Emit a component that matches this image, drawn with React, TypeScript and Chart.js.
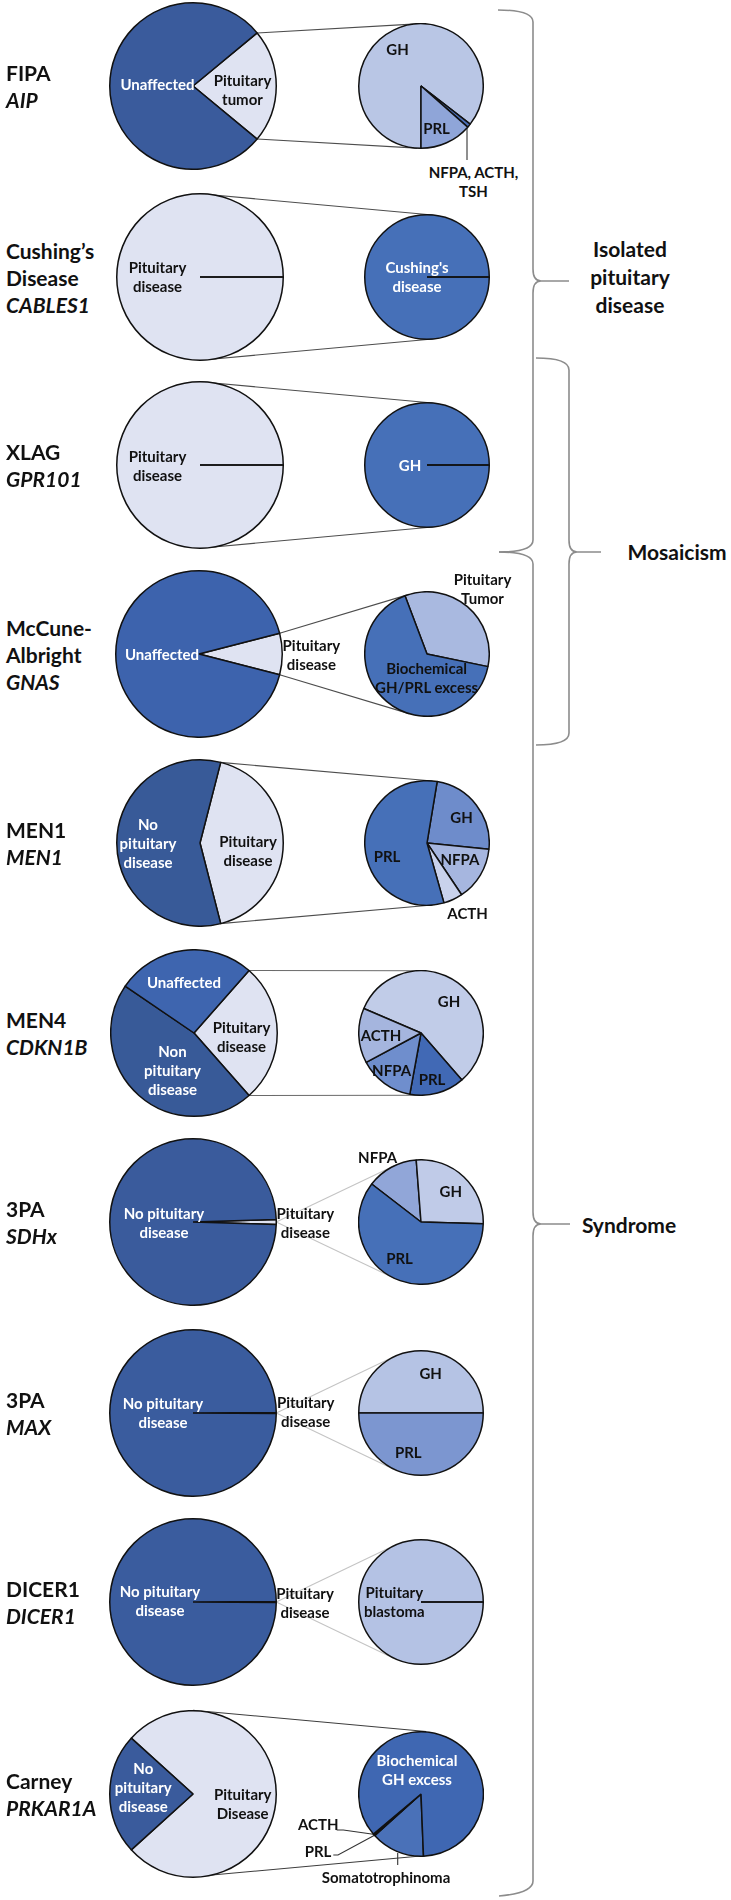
import React, { useEffect, useRef } from 'react';
import Chart from 'chart.js/auto';

// ---------------- DATA ----------------
const rowNames = [['FIPA'], ['Cushing’s', 'Disease'], ['XLAG'], ['McCune-', 'Albright'], ['MEN1'], ['MEN4'], ['3PA'], ['3PA'], ['DICER1'], ['Carney']];
const geneNames = ['AIP', 'CABLES1', 'GPR101', 'GNAS', 'MEN1', 'CDKN1B', 'SDHx', 'MAX', 'DICER1', 'PRKAR1A'];
const groupNames = ['Isolated pituitary disease', 'Mosaicism', 'Syndrome'];

const fipaCats = ['Pituitary tumor', 'Unaffected'];
const fipaVals = [22, 78];
const fipaTumorCats = ['GH', 'NFPA, ACTH, TSH', 'PRL'];
const fipaTumorVals = [85.5, 1, 13.5];

const cablesCats = ['Pituitary disease'];
const cablesVals = [100];
const cablesDiseaseCats = ["Cushing's disease"];
const cablesDiseaseVals = [100];

const xlagCats = ['Pituitary disease'];
const xlagVals = [100];
const xlagDiseaseCats = ['GH'];
const xlagDiseaseVals = [100];

const gnasCats = ['Pituitary disease', 'Unaffected'];
const gnasVals = [8, 92];
const gnasDiseaseCats = ['Pituitary Tumor', 'Biochemical GH/PRL excess'];
const gnasDiseaseVals = [34, 66];

const men1Cats = ['Pituitary disease', 'No pituitary disease'];
const men1Vals = [42, 58];
const men1DiseaseCats = ['GH', 'NFPA', 'ACTH', 'PRL'];
const men1DiseaseVals = [24, 14, 5, 57];

const men4Cats = ['Pituitary disease', 'Non pituitary disease', 'Unaffected'];
const men4Vals = [27, 46, 27];
const men4DiseaseCats = ['GH', 'PRL', 'NFPA', 'ACTH'];
const men4DiseaseVals = [4, 1, 1, 1];

const sdhCats = ['Pituitary disease', 'No pituitary disease'];
const sdhVals = [1, 99];
const sdhDiseaseCats = ['NFPA', 'GH', 'PRL'];
const sdhDiseaseVals = [2, 4, 9];

const maxCats = ['Pituitary disease', 'No pituitary disease'];
const maxVals = [0.2, 99.8];
const maxDiseaseCats = ['GH', 'PRL'];
const maxDiseaseVals = [1, 1];

const dicerCats = ['Pituitary disease', 'No pituitary disease'];
const dicerVals = [0.2, 99.8];
const dicerDiseaseCats = ['Pituitary blastoma'];
const dicerDiseaseVals = [100];

const carneyCats = ['Pituitary Disease', 'No pituitary disease'];
const carneyVals = [76.6, 23.4];
const carneyDiseaseCats = ['Somatotrophinoma', 'PRL', 'ACTH', 'Biochemical GH excess'];
const carneyDiseaseVals = [14, 0.25, 0.25, 85.5];

const leftCats = [fipaCats, cablesCats, xlagCats, gnasCats, men1Cats, men4Cats, sdhCats, maxCats, dicerCats, carneyCats];
const leftVals = [fipaVals, cablesVals, xlagVals, gnasVals, men1Vals, men4Vals, sdhVals, maxVals, dicerVals, carneyVals];
const rightCats = [fipaTumorCats, cablesDiseaseCats, xlagDiseaseCats, gnasDiseaseCats, men1DiseaseCats, men4DiseaseCats, sdhDiseaseCats, maxDiseaseCats, dicerDiseaseCats, carneyDiseaseCats];
const rightVals = [fipaTumorVals, cablesDiseaseVals, xlagDiseaseVals, gnasDiseaseVals, men1DiseaseVals, men4DiseaseVals, sdhDiseaseVals, maxDiseaseVals, dicerDiseaseVals, carneyDiseaseVals];

// ---------------- LAYOUT / STYLE ----------------
const FONT = 'Lato, "Open Sans", "DejaVu Sans", sans-serif';
const LAV = '#dfe3f2';
const DARK = '#111111';
const rowY = [86, 277, 465, 654, 843, 1033, 1222, 1413, 1602, 1793.5];
const leftX = [193, 200, 200, 199, 199.5, 193.5, 193, 193, 193, 193];
const rightX = [420.5, 427, 427, 427, 427, 421, 421, 420.5, 420.5, 420.5];
const SL = 168; // left canvas size
const SR = 126; // right canvas size
const BW = 1.5;
const RL = (SL - BW) / 2;
const RR = (SR - BW) / 2;
const rightStart = [90, 0, 0, -110.7, -80.6, 203.2, 217.6, 180, 0, 87.7];
const connectorMode = ['edges', 'poles', 'poles', 'edges', 'edges', 'edges', 'tip', 'tip', 'tip', 'poles'];
const connectorColor = ['#4d4d4d', '#4d4d4d', '#4d4d4d', '#4d4d4d', '#4d4d4d', '#6a6a6a', '#c4c4c4', '#c4c4c4', '#c4c4c4', '#3d3d3d'];
const leftColors = [
  [LAV, '#3a5b9c'], [LAV], [LAV], [LAV, '#3d63ad'], [LAV, '#385a98'],
  [LAV, '#385a98', '#3e65af'], [LAV, '#3a5b9c'], [LAV, '#3a5c9e'], [LAV, '#3a5c9e'], [LAV, '#3a5b9c'],
];
const rightColors = [
  ['#b9c6e5', '#4a6db5', '#8fa5d8'], ['#4670b8'], ['#4670b8'], ['#a9b9e0', '#4670b8'],
  ['#6e8ccb', '#a6b6df', '#c9d2ec', '#4670b8'], ['#c1cce8', '#4169b5', '#6f8ecd', '#a5b5de'],
  ['#91a6d8', '#c0cbe8', '#4670b8'], ['#b5c3e4', '#7c96d0'], ['#b4c2e4'],
  ['#4a71b8', '#2f4f8f', '#2f4f8f', '#3f67b2'],
];

type Lbl = { x: number; y: number; t: string; c: string };
const W = '#ffffff';
const sliceLabels: Lbl[] = [
  { x: 157.5, y: 84, t: 'Unaffected', c: W },
  { x: 242.5, y: 89.5, t: 'Pituitary\ntumor', c: DARK },
  { x: 397.5, y: 49, t: 'GH', c: DARK },
  { x: 436.5, y: 128, t: 'PRL', c: DARK },
  { x: 473.5, y: 182, t: 'NFPA, ACTH,\nTSH', c: DARK },
  { x: 157.5, y: 277.2, t: 'Pituitary\ndisease', c: DARK },
  { x: 417, y: 277.2, t: "Cushing's\ndisease", c: W },
  { x: 157.5, y: 465.5, t: 'Pituitary\ndisease', c: DARK },
  { x: 410, y: 465, t: 'GH', c: W },
  { x: 162, y: 654, t: 'Unaffected', c: W },
  { x: 311.4, y: 655, t: 'Pituitary\ndisease', c: DARK },
  { x: 482.5, y: 588.5, t: 'Pituitary\nTumor', c: DARK },
  { x: 426.6, y: 678, t: 'Biochemical\nGH/PRL excess', c: DARK },
  { x: 148, y: 843, t: 'No\npituitary\ndisease', c: W },
  { x: 248, y: 851, t: 'Pituitary\ndisease', c: DARK },
  { x: 387, y: 856, t: 'PRL', c: DARK },
  { x: 461.5, y: 817, t: 'GH', c: DARK },
  { x: 460, y: 859, t: 'NFPA', c: DARK },
  { x: 467.6, y: 912.7, t: 'ACTH', c: DARK },
  { x: 184, y: 981.7, t: 'Unaffected', c: W },
  { x: 241.5, y: 1036.7, t: 'Pituitary\ndisease', c: DARK },
  { x: 172.5, y: 1070, t: 'Non\npituitary\ndisease', c: W },
  { x: 449, y: 1000.7, t: 'GH', c: DARK },
  { x: 381, y: 1035, t: 'ACTH', c: DARK },
  { x: 391.6, y: 1070, t: 'NFPA', c: DARK },
  { x: 432, y: 1079, t: 'PRL', c: DARK },
  { x: 164, y: 1223.3, t: 'No pituitary\ndisease', c: W },
  { x: 305.4, y: 1223, t: 'Pituitary\ndisease', c: DARK },
  { x: 377.6, y: 1156.7, t: 'NFPA', c: DARK },
  { x: 450.8, y: 1190.7, t: 'GH', c: DARK },
  { x: 399.5, y: 1258.3, t: 'PRL', c: DARK },
  { x: 163, y: 1413, t: 'No pituitary\ndisease', c: W },
  { x: 305.7, y: 1412.4, t: 'Pituitary\ndisease', c: DARK },
  { x: 430.7, y: 1372.7, t: 'GH', c: DARK },
  { x: 408.3, y: 1451.7, t: 'PRL', c: DARK },
  { x: 160, y: 1600.5, t: 'No pituitary\ndisease', c: W },
  { x: 305, y: 1602.5, t: 'Pituitary\ndisease', c: DARK },
  { x: 394.3, y: 1601.7, t: 'Pituitary\nblastoma', c: DARK },
  { x: 143.3, y: 1787.3, t: 'No\npituitary\ndisease', c: W },
  { x: 242.7, y: 1803.8, t: 'Pituitary\nDisease', c: DARK },
  { x: 417, y: 1769.7, t: 'Biochemical\nGH excess', c: W },
  { x: 318.3, y: 1824.3, t: 'ACTH', c: DARK },
  { x: 318, y: 1850.7, t: 'PRL', c: DARK },
  { x: 386, y: 1876.7, t: 'Somatotrophinoma', c: DARK },
];
const leaderPaths = [
  'M467 126 L467 160',
  'M336.7 1830 L343.3 1830 L373.3 1834.3',
  'M333.3 1855 L338 1855 L375 1835',
  'M397.7 1853 L397.7 1865',
];
const bracePaths = [
  'M498 10 Q533 10 533 22 L533 269 Q533 281 541 281 L569 281 M541 281 Q533 281 533 293 L533 540 Q533 552 499 552',
  'M499 552 Q533 552 533 564 L533 1212 Q533 1224 541 1224 L570 1224 M541 1224 Q533 1224 533 1236 L533 1881 Q533 1893 499 1896',
  'M536 358 Q569 358 569 370 L569 540 Q569 552 577 552 L601 552 M577 552 Q569 552 569 564 L569 733 Q569 745 536 745',
];
const groupLabelPos = [
  { x: 630, y: 276.5 },
  { x: 677, y: 552 },
  { x: 629, y: 1225 },
];
const groupLabelText = ['Isolated\npituitary\ndisease', groupNames[1], groupNames[2]];

// ---------------- HELPERS ----------------
const fullCircleLine = {
  id: 'fullCircleLine',
  afterDatasetsDraw(chart: any) {
    const meta = chart.getDatasetMeta(0);
    const ctx = chart.ctx;
    meta.data.forEach((arc: any) => {
      const p = arc.getProps(['x', 'y', 'startAngle', 'endAngle', 'outerRadius'], true);
      if (p.endAngle - p.startAngle >= Math.PI * 2 - 1e-6) {
        ctx.save();
        ctx.strokeStyle = DARK;
        ctx.lineWidth = BW;
        ctx.beginPath();
        ctx.moveTo(p.x, p.y);
        ctx.lineTo(p.x + p.outerRadius * Math.cos(p.startAngle), p.y + p.outerRadius * Math.sin(p.startAngle));
        ctx.stroke();
        ctx.restore();
      }
    });
  },
};

function leftStartAngle(vals: number[]) {
  const total = vals.reduce((a, b) => a + b, 0);
  const frac = vals[0] / total;
  if (frac >= 0.9999) return 0;
  return -frac * 180;
}

function tangent(px: number, py: number, cx: number, cy: number, r: number, upper: boolean) {
  const dx = px - cx, dy = py - cy;
  const d = Math.hypot(dx, dy);
  const th = Math.atan2(dy, dx);
  const a = Math.acos(Math.min(1, r / d));
  const ang = upper ? th + a : th - a;
  return [cx + r * Math.cos(ang), cy + r * Math.sin(ang)];
}

function connectors(i: number) {
  const cx = leftX[i], cy = rowY[i];
  const vals = leftVals[i];
  const mode = connectorMode[i];
  let up: number[], lo: number[];
  if (mode === 'poles') {
    up = [cx, cy - RL];
    lo = [cx, cy + RL];
  } else if (mode === 'tip') {
    up = [cx + RL, cy];
    lo = [cx + RL, cy];
  } else {
    const total = vals.reduce((a, b) => a + b, 0);
    const s = (leftStartAngle(vals) * Math.PI) / 180;
    const e = s + (vals[0] / total) * Math.PI * 2;
    const p1 = [cx + RL * Math.cos(s), cy + RL * Math.sin(s)];
    const p2 = [cx + RL * Math.cos(e), cy + RL * Math.sin(e)];
    if (p1[1] < p2[1]) { up = p1; lo = p2; } else { up = p2; lo = p1; }
  }
  const t1 = tangent(up[0], up[1], rightX[i], rowY[i], RR, true);
  const t2 = tangent(lo[0], lo[1], rightX[i], rowY[i], RR, false);
  return [[up, t1], [lo, t2]];
}

function PieCanvas(props: { cx: number; cy: number; size: number; labels: string[]; values: number[]; colors: string[]; start: number }) {
  const ref = useRef<HTMLCanvasElement | null>(null);
  const { cx, cy, size, labels, values, colors, start } = props;
  useEffect(() => {
    if (!ref.current) return;
    const chart = new Chart(ref.current, {
      type: 'pie',
      data: {
        labels,
        datasets: [{ data: values, backgroundColor: colors, borderColor: DARK, borderWidth: BW, hoverOffset: 0 }],
      },
      options: {
        responsive: false,
        animation: false,
        events: [],
        rotation: start + 90,
        layout: { padding: 0 },
        plugins: { legend: { display: false }, tooltip: { enabled: false } },
      },
      plugins: [fullCircleLine],
    } as any);
    return () => chart.destroy();
  }, []);
  return (
    <canvas
      ref={ref}
      width={size}
      height={size}
      style={{ position: 'absolute', left: cx - size / 2, top: cy - size / 2, width: size, height: size }}
    />
  );
}

function Text(props: { x: number; y: number; t: string; c: string; size?: number; lh?: number }) {
  const { x, y, t, c, size = 15, lh = 19 } = props;
  return (
    <div
      style={{
        position: 'absolute', left: x, top: y, transform: 'translate(-50%, -50%)',
        color: c, fontSize: size, fontWeight: 700, lineHeight: lh + 'px',
        whiteSpace: 'pre', textAlign: 'center', fontFamily: FONT,
      }}
    >
      {t}
    </div>
  );
}

export default function App() {
  return (
    <div style={{ position: 'relative', width: 731, height: 1900, background: '#fff', overflow: 'hidden', fontFamily: FONT }}>
      <style>{'body{margin:0;background:#fff}'}</style>
      <svg width={731} height={1900} style={{ position: 'absolute', left: 0, top: 0 }}>
        {rowY.map((_, i) =>
          connectors(i).map((seg, k) => (
            <line key={i + '-' + k} x1={seg[0][0]} y1={seg[0][1]} x2={seg[1][0]} y2={seg[1][1]} stroke={connectorColor[i]} strokeWidth={1.1} />
          ))
        )}
        {leaderPaths.map((d, i) => (
          <path key={'l' + i} d={d} fill="none" stroke="#333" strokeWidth={1.1} />
        ))}
        {bracePaths.map((d, i) => (
          <path key={'b' + i} d={d} fill="none" stroke="#8c8c8c" strokeWidth={1.6} />
        ))}
      </svg>
      {rowY.map((y, i) => (
        <PieCanvas key={'L' + i} cx={leftX[i]} cy={y} size={SL} labels={leftCats[i]} values={leftVals[i]} colors={leftColors[i]} start={leftStartAngle(leftVals[i])} />
      ))}
      {rowY.map((y, i) => (
        <PieCanvas key={'R' + i} cx={rightX[i]} cy={y} size={SR} labels={rightCats[i]} values={rightVals[i]} colors={rightColors[i]} start={rightStart[i]} />
      ))}
      {sliceLabels.map((l, i) => (
        <Text key={'s' + i} {...l} />
      ))}
      {rowY.map((y, i) => (
        <div
          key={'n' + i}
          style={{
            position: 'absolute', left: 6, top: y, transform: 'translateY(-50%)',
            fontSize: 21, fontWeight: 700, lineHeight: '27px', color: DARK, fontFamily: FONT, whiteSpace: 'pre',
          }}
        >
          {rowNames[i].map((n, k) => (
            <div key={k}>{n}</div>
          ))}
          <div style={{ fontStyle: 'italic' }}>{geneNames[i]}</div>
        </div>
      ))}
      {groupLabelPos.map((p, i) => (
        <Text key={'g' + i} x={p.x} y={p.y} t={groupLabelText[i]} c={DARK} size={21} lh={28} />
      ))}
    </div>
  );
}
